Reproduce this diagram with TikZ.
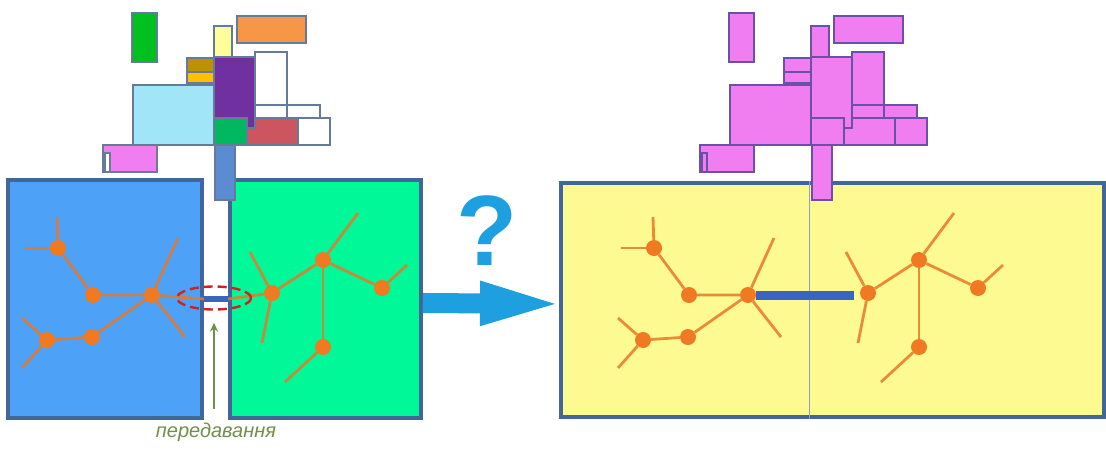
\documentclass[tikz,border=0pt]{standalone}
\usepackage{fontspec}
\setmainfont{Liberation Sans}
\usetikzlibrary{arrows.meta,shapes.geometric}

\definecolor{boxedge}{HTML}{41679A}
\definecolor{skyblue}{HTML}{4DA2F8}
\definecolor{springgreen}{HTML}{00F898}
\definecolor{lightyellow}{HTML}{FEFA92}
\definecolor{atomorange}{HTML}{F07A22}
\definecolor{bondorange}{HTML}{E8782A}
\definecolor{linkblue}{HTML}{3A64C2}
\definecolor{ringred}{HTML}{D62020}
\definecolor{arrowblue}{HTML}{1EA0E0}
\definecolor{olivetext}{HTML}{6F8F4A}
\definecolor{blockedge}{HTML}{667A99}
\definecolor{pinkedge}{HTML}{6B4FA8}
\definecolor{leafgreen}{HTML}{00C020}
\definecolor{tangerine}{HTML}{F79646}
\definecolor{paleyellow}{HTML}{FFFF99}
\definecolor{darkgold}{HTML}{BF9000}
\definecolor{amber}{HTML}{FFC000}
\definecolor{skycyan}{HTML}{A0E6F8}
\definecolor{rosered}{HTML}{CC5560}
\definecolor{violet}{HTML}{7030A0}
\definecolor{emerald}{HTML}{00B860}
\definecolor{orchid}{HTML}{F07EF0}
\definecolor{steelblue}{HTML}{5B8BD0}

% rectangles of the block pile: x1/y1/x2/y2/colour
\def\blocklist{132/13/157/62/leafgreen, 237/16/306/43/tangerine,
  214/26/232/58/paleyellow, 187/58/214/72/darkgold, 187/72/214/83/amber,
  255/52/287/107/white, 133/85/214/145/skycyan, 255/105/287/118/white,
  287/105/320/118/white, 247/118/298/145/rosered, 298/118/330/145/white,
  214/57/255/128/violet, 214/118/247/145/emerald, 103/145/157/172/orchid,
  105/153/110/172/white, 215/145/235/200/steelblue}

% the two molecule fragments
\newcommand{\fragments}{%
  \node[atom] (a) at (58,248) {};
  \node[atom] (b) at (93,295) {};
  \node[atom] (c) at (152,295) {};
  \node[atom] (d) at (47,340) {};
  \node[atom] (e) at (92,337) {};
  \draw[bond] (a) -- (b) -- (c) -- (e) -- (d);
  \draw[bond] (a) -- +(-1,-31);
  \draw[bond] (a) -- +(-33,0);
  \draw[bond] (c) -- +(26,-57);
  \draw[bond] (c) -- +(33,42);
  \draw[bond] (d) -- +(-25,-22);
  \draw[bond] (d) -- +(-25,28);
  \node[atom] (f) at (272,293) {};
  \node[atom] (g) at (323,260) {};
  \node[atom] (h) at (382,288) {};
  \node[atom] (i) at (323,347) {};
  \draw[bond] (f) -- (g) -- (h);
  \draw[bond] (g) -- (i);
  \draw[bond] (g) -- +(35,-47);
  \draw[bond] (f) -- +(-22,-41);
  \draw[bond] (f) -- +(-10,50);
  \draw[bond] (h) -- +(25,-23);
  \draw[bond] (i) -- +(-38,35);
}

\begin{document}
\begin{tikzpicture}[x=1pt,y=-1pt,
    box/.style={draw=boxedge,line width=4pt,inner sep=0pt},
    atom/.style={circle,fill=atomorange,minimum size=16pt,inner sep=0pt},
    bond/.style={draw=bondorange,line width=2.8pt,draw opacity=0.85},
    link/.style={draw=linkblue,line width=6pt},
    block/.style={draw=#1,line width=1.6pt}]
  \useasboundingbox (0,0) rectangle (1106,450);

  \node[box,fill=skyblue,minimum width=194pt,minimum height=238pt] (blue) at (105,299) {};
  \node[box,fill=springgreen,minimum width=191pt,minimum height=238pt] (green) at (325.5,299) {};
  \node[box,fill=lightyellow,minimum width=543pt,minimum height=234pt] (yellow) at (832.5,300) {};
  \draw[boxedge!60,line width=1pt] (809,0 |- yellow.north) -- (809,0 |- yellow.south);

  \fragments
  \draw[bond] (c) -- (blue.east);
  \draw[bond] (f) -- (green.west);
  \draw[link] (blue.east) -- (green.west);
  \node[ellipse,draw=ringred,line width=2.4pt,dash pattern=on 9pt off 5pt,
    minimum width=74pt,minimum height=23pt,inner sep=0pt] (ring) at (214,298) {};

  \begin{scope}[shift={(596,0)},name prefix=y-]
    \fragments
    \draw[link,line width=9pt,shorten >=14pt] (c) -- (c -| f);
  \end{scope}

  % block piles above the boxes
  \foreach \xa/\ya/\xb/\yb/\col in \blocklist
    \draw[block=blockedge,fill=\col] (\xa,\ya) rectangle (\xb,\yb);
  \begin{scope}[shift={(597,0)}]
    \foreach \xa/\ya/\xb/\yb/\col in \blocklist
      \draw[block=pinkedge,fill=orchid] (\xa,\ya) rectangle (\xb,\yb);
  \end{scope}

  \draw[arrowblue,line width=20pt,-{Triangle[length=88pt,width=38pt]}]
    ([yshift=-4pt]green.east) -- ([yshift=-4pt,xshift=9pt]yellow.west);
  \node[font=\fontsize{100}{100}\selectfont\bfseries,text=arrowblue,anchor=base,inner sep=0pt]
    (ask) at (487,265) {?};

  \node[font=\fontsize{20}{24}\selectfont\itshape,text=olivetext,anchor=base] (label) at (216,437) {передавання};
  \draw[olivetext,line width=2pt,shorten <=10pt,shorten >=12pt,-{Stealth[length=9pt,width=8pt]}]
    (label.north -| ring.south) -- (ring.south);
\end{tikzpicture}
\end{document}
